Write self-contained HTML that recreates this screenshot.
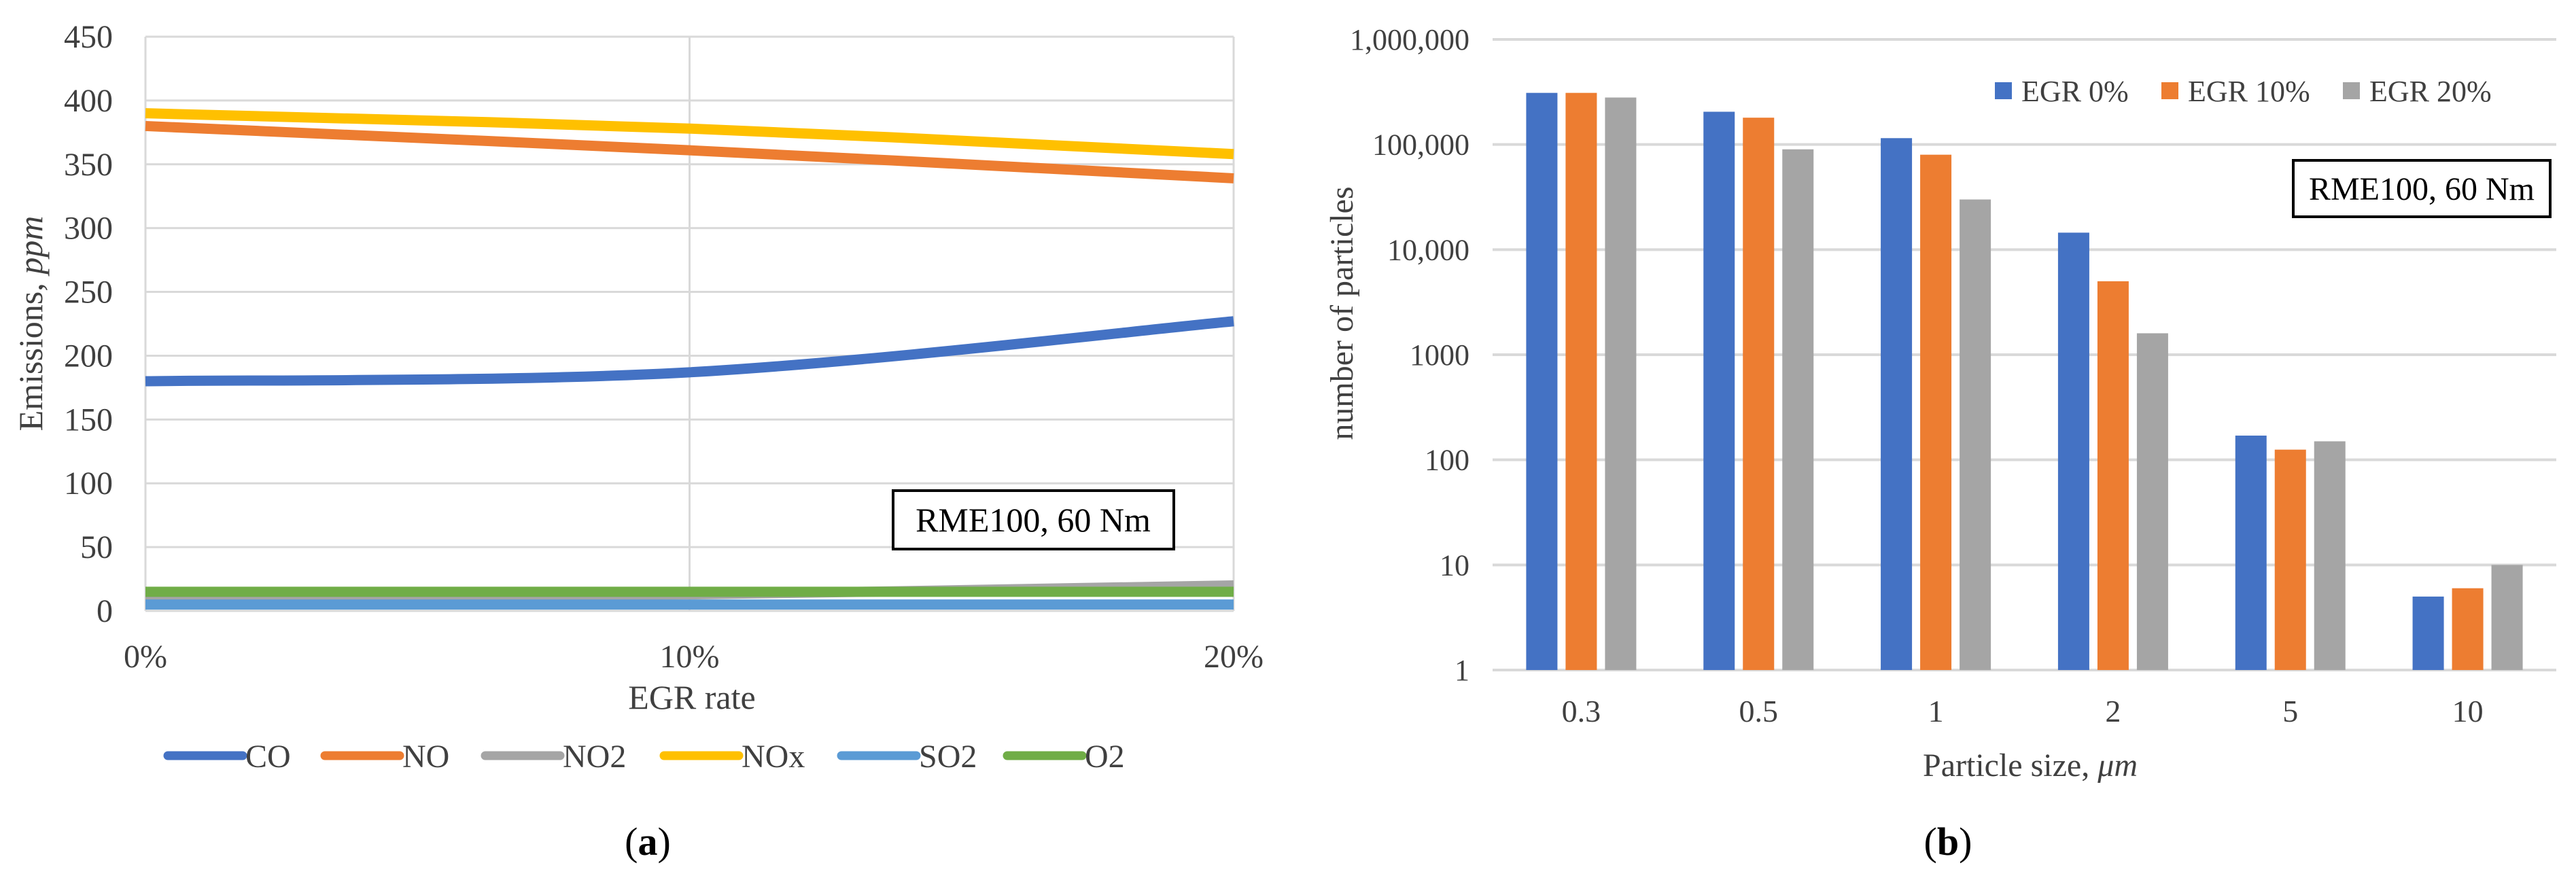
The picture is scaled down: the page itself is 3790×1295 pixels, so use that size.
<!DOCTYPE html>
<html><head><meta charset="utf-8"><style>
body{margin:0;background:#fff}
svg{display:block}
text{font-family:"Liberation Serif",serif;fill:#404040}
</style></head><body>
<svg id="fig" width="3790" height="1295" viewBox="0 0 3790 1295">
<g id="chartA"></g>
<g id="chartB"></g>
</svg>
<script>
// ---- Chart A data ----
const egrLabels = ["0%","10%","20%"];
const seriesNames = ["CO","NO","NO2","NOx","SO2","O2"];
const seriesColors = ["#4472C4","#ED7D31","#A5A5A5","#FFC000","#5B9BD5","#70AD47"];
const coVals = [180,187,227];
const noVals = [380,361,339];
const no2Vals = [10,13,20];
const noxVals = [390,378,358];
const so2Vals = [5,5,5];
const o2Vals = [15,15,15];
const yTicksA = [0,50,100,150,200,250,300,350,400,450];
// ---- Chart B data ----
const sizes = ["0.3","0.5","1","2","5","10"];
const egr0 = [310000,205000,115000,14500,170,5];
const egr10 = [310000,180000,80000,5000,125,6];
const egr20 = [280000,90000,30000,1600,150,10];
const yTickLabelsB = ["1","10","100","1000","10,000","100,000","1,000,000"];
const legendB = ["EGR 0%","EGR 10%","EGR 20%"];

const NS="http://www.w3.org/2000/svg";
function mk(parent,tag,attrs,txt){const e=document.createElementNS(NS,tag);for(const k in attrs)e.setAttribute(k,attrs[k]);if(txt!==undefined)e.textContent=txt;parent.appendChild(e);return e;}

// ===== Chart A =====
const A=document.getElementById('chartA');
const aL=214,aR=1815,aT=54,aB=899;
const xA=i=>aL+(aR-aL)*i/(egrLabels.length-1);
const yA=v=>aB-(aB-aT)*v/450;
yTicksA.forEach(v=>{
  let l=mk(A,'line',{x1:aL,x2:aR,y1:yA(v),y2:yA(v),stroke:'#d9d9d9','stroke-width':3});
  
  
  let t=mk(A,'text',{x:166,y:yA(v)+16,'text-anchor':'end','font-size':48},String(v));
  
  
});
egrLabels.forEach((s,i)=>{
  let l=mk(A,'line',{x1:xA(i),x2:xA(i),y1:aT,y2:aB,stroke:'#d9d9d9','stroke-width':3});
  
  
  let t=mk(A,'text',{x:xA(i),y:982,'text-anchor':'middle','font-size':48},s);
  
  
});
let ta=mk(A,'text',{x:0,y:0,'text-anchor':'middle','font-size':50,transform:'translate(62,476) rotate(-90)'});
ta.innerHTML='Emissions, <tspan font-style="italic">ppm</tspan>';


let xt=mk(A,'text',{x:1018,y:1043,'text-anchor':'middle','font-size':50},'EGR rate');


function spline(vals){
  const p=vals.map((v,i)=>[xA(i),yA(v)]);
  let d=`M${p[0][0]},${p[0][1]}`;
  for(let i=0;i<p.length-1;i++){
    const p0=p[i-1]||p[i],p1=p[i],p2=p[i+1],p3=p[i+2]||p[i+1];
    const c1=[p1[0]+(p2[0]-p0[0])/6,p1[1]+(p2[1]-p0[1])/6];
    const c2=[p2[0]-(p3[0]-p1[0])/6,p2[1]-(p3[1]-p1[1])/6];
    d+=` C${c1[0]},${c1[1]} ${c2[0]},${c2[1]} ${p2[0]},${p2[1]}`;
  }
  return d;
}
const allA=[coVals,noVals,no2Vals,noxVals,so2Vals,o2Vals];
allA.forEach((vals,k)=>{
  let p=mk(A,'path',{d:spline(vals),fill:'none',stroke:seriesColors[k],'stroke-width':15,'stroke-linecap':'butt'});
  
  
});
let ba=mk(A,'g',{});


mk(ba,'rect',{x:1314,y:722,width:413,height:86,fill:'#fff',stroke:'#000','stroke-width':4});
mk(ba,'text',{x:1520,y:782,'text-anchor':'middle','font-size':50,style:'fill:#000'},'RME100, 60 Nm');
const legX=[247,478,714,977,1238,1482];
seriesNames.forEach((n,k)=>{
  let g=mk(A,'g',{});
  
  
  mk(g,'line',{x1:legX[k],x2:legX[k]+110,y1:1112,y2:1112,stroke:seriesColors[k],'stroke-width':13,'stroke-linecap':'round'});
  mk(g,'text',{x:legX[k]+114,y:1129,'font-size':48},n);
});
let la=mk(A,'text',{x:953,y:1258,'text-anchor':'middle','font-size':58,style:'fill:#000'});
la.innerHTML='(<tspan font-weight="bold">a</tspan>)';



// ===== Chart B =====
const B=document.getElementById('chartB');
const bL=2196,bR=3761,bT=58,bBot=986;
const yB=v=>bBot-(bBot-bT)*Math.log10(v)/6;
const band=(bR-bL)/sizes.length;
const xB=i=>bL+band*(i+0.5);
yTickLabelsB.forEach((s,i)=>{
  const v=Math.pow(10,i);
  let l=mk(B,'line',{x1:bL,x2:bR,y1:yB(v),y2:yB(v),stroke:'#d9d9d9','stroke-width':4});
  
  
  let t=mk(B,'text',{x:2162,y:yB(v)+15,'text-anchor':'end','font-size':44},s);
  
  
});
const barCols=["#4472C4","#ED7D31","#A5A5A5"];
[egr0,egr10,egr20].forEach((vals,s)=>{
  vals.forEach((v,i)=>{
    const cx=xB(i)+(s-1)*58;
    let r=mk(B,'rect',{x:cx-23,y:yB(v),width:46,height:yB(1)-yB(v),fill:barCols[s]});
    
    
  });
});
sizes.forEach((s,i)=>{
  let t=mk(B,'text',{x:xB(i),y:1062,'text-anchor':'middle','font-size':46},s);
  
  
});
let tb=mk(B,'text',{x:0,y:0,'text-anchor':'middle','font-size':48,transform:'translate(1990,461) rotate(-90)'},'number of particles');


let xb=mk(B,'text',{x:2987,y:1142,'text-anchor':'middle','font-size':48});
xb.innerHTML='Particle size, <tspan font-style="italic">μm</tspan>';


const legBX=[2935,3180,3447];
legendB.forEach((n,k)=>{
  let g=mk(B,'g',{});
  
  
  mk(g,'rect',{x:legBX[k],y:121,width:25,height:25,fill:barCols[k]});
  mk(g,'text',{x:legBX[k]+39,y:149,'font-size':44},n);
});
let bb=mk(B,'g',{});


mk(bb,'rect',{x:3374,y:236,width:378,height:83,fill:'#fff',stroke:'#000','stroke-width':4});
mk(bb,'text',{x:3563,y:294,'text-anchor':'middle','font-size':48,style:'fill:#000'},'RME100, 60 Nm');
let lb=mk(B,'text',{x:2866,y:1258,'text-anchor':'middle','font-size':58,style:'fill:#000'});
lb.innerHTML='(<tspan font-weight="bold">b</tspan>)';


</script>
</body></html>
